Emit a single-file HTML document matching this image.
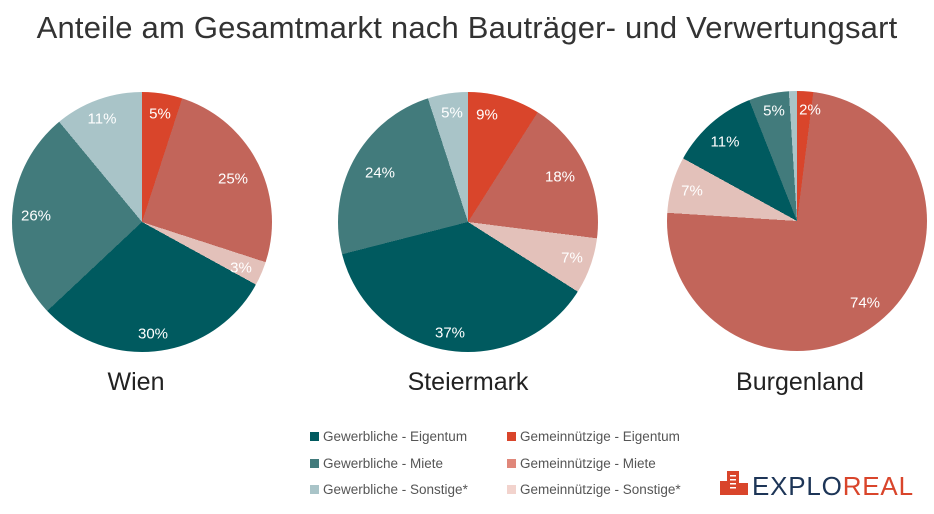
<!DOCTYPE html>
<html><head><meta charset="utf-8"><style>
body{margin:0;width:934px;height:514px;background:#fff;position:relative;overflow:hidden;font-family:"Liberation Sans",sans-serif}
.t{position:absolute;left:0;width:934px;top:10px;text-align:center;font-size:31px;color:#333;font-weight:300;letter-spacing:0.2px}
.pie{position:absolute;width:260px;height:260px;border-radius:50%}
.l{position:absolute;color:#fff;font-size:15px;transform:translate(-50%,-50%)}
.n{position:absolute;font-size:25px;color:#222;transform:translateX(-50%)}
.lg{position:absolute;font-size:13.5px;color:#555}
.lg i{display:inline-block;width:9px;height:9px;margin-right:4px;vertical-align:0px}
</style></head><body>
<div class="t">Anteile am Gesamtmarkt nach Bauträger- und Verwertungsart</div>
<div class="pie" style="left:12px;top:92px;background:conic-gradient(#d9452b 0 18deg,#c2655a 18deg 108deg,#e3c1ba 108deg 118.8deg,#005a5f 118.8deg 226.8deg,#427b7c 226.8deg 320.4deg,#a9c4c8 320.4deg 360deg)"></div>
<div class="pie" style="left:338px;top:92px;background:conic-gradient(#d9452b 0 32.4deg,#c2655a 32.4deg 97.2deg,#e3c1ba 97.2deg 122.4deg,#005a5f 122.4deg 255.6deg,#427b7c 255.6deg 342deg,#a9c4c8 342deg 360deg)"></div>
<div class="pie" style="left:667px;top:91px;background:conic-gradient(#d9452b 0 7.2deg,#c2655a 7.2deg 273.6deg,#e3c1ba 273.6deg 298.8deg,#005a5f 298.8deg 338.4deg,#427b7c 338.4deg 356.4deg,#a9c4c8 356.4deg 360deg)"></div>
<div class="l" style="left:160px;top:114px">5%</div>
<div class="l" style="left:233px;top:179px">25%</div>
<div class="l" style="left:241px;top:268px">3%</div>
<div class="l" style="left:153px;top:334px">30%</div>
<div class="l" style="left:36px;top:216px">26%</div>
<div class="l" style="left:102px;top:119px">11%</div>
<div class="l" style="left:487px;top:115px">9%</div>
<div class="l" style="left:560px;top:177px">18%</div>
<div class="l" style="left:572px;top:258px">7%</div>
<div class="l" style="left:450px;top:333px">37%</div>
<div class="l" style="left:380px;top:173px">24%</div>
<div class="l" style="left:452px;top:113px">5%</div>
<div class="l" style="left:810px;top:110px">2%</div>
<div class="l" style="left:725px;top:142px">11%</div>
<div class="l" style="left:774px;top:111px">5%</div>
<div class="l" style="left:692px;top:191px">7%</div>
<div class="l" style="left:865px;top:303px">74%</div>
<div class="n" style="left:136px;top:368px">Wien</div>
<div class="n" style="left:468px;top:368px">Steiermark</div>
<div class="n" style="left:800px;top:368px">Burgenland</div>
<div class="lg" style="left:310px;top:429px"><i style="background:#005a5f"></i>Gewerbliche - Eigentum</div>
<div class="lg" style="left:310px;top:456px"><i style="background:#427b7c"></i>Gewerbliche - Miete</div>
<div class="lg" style="left:310px;top:482px"><i style="background:#a9c4c8"></i>Gewerbliche - Sonstige*</div>
<div class="lg" style="left:507px;top:429px"><i style="background:#d9452b"></i>Gemeinnützige - Eigentum</div>
<div class="lg" style="left:507px;top:456px"><i style="background:#e0877a"></i>Gemeinnützige - Miete</div>
<div class="lg" style="left:507px;top:482px"><i style="background:#f2d3cd"></i>Gemeinnützige - Sonstige*</div>
<svg style="position:absolute;left:720px;top:471px" width="30" height="26"><rect x="0" y="10" width="8" height="14" fill="#d9452b"/><rect x="7" y="0" width="12" height="24" fill="#d9452b"/><rect x="18" y="12" width="10" height="12" fill="#d9452b"/><g fill="#fff"><rect x="10" y="4" width="6" height="1.5"/><rect x="10" y="8" width="6" height="1.5"/><rect x="10" y="12" width="6" height="1.5"/><rect x="10" y="16" width="6" height="1.5"/></g></svg>
<div style="position:absolute;left:752px;top:471px;font-size:26px;letter-spacing:0.8px;color:#1d3557">EXPLO<span style="color:#d9452b">REAL</span></div>
</body></html>
